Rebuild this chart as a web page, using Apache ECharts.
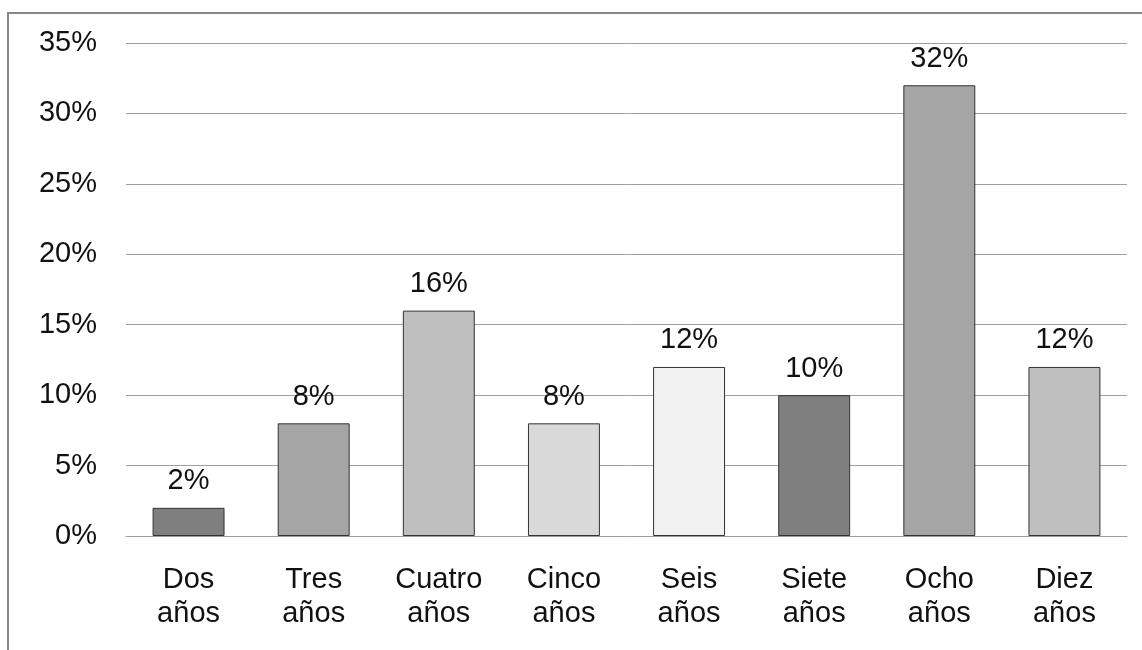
<!DOCTYPE html>
<html>
<head>
<meta charset="utf-8">
<script src="https://cdn.jsdelivr.net/npm/echarts@6/dist/echarts.min.js"></script>
<style>
  html, body { margin: 0; padding: 0; background: #fff; }
  #chart { width: 1142px; height: 650px; }
</style>
</head>
<body>
<div id="chart"></div>
<script>
// datos
const categorias = ['Dos\naños', 'Tres\naños', 'Cuatro\naños', 'Cinco\naños', 'Seis\naños', 'Siete\naños', 'Ocho\naños', 'Diez\naños']
const porcentajes = [2, 8, 16, 8, 12, 10, 32, 12]
const colores = ['#7f7f7f', '#a5a5a5', '#bfbfbf', '#d9d9d9', '#f2f2f2', '#7f7f7f', '#a5a5a5', '#bfbfbf']

const chart = echarts.init(document.getElementById('chart'))
const font = 'Liberation Sans, Arial, sans-serif'
const fsize = 29

const option = {
  animation: false,
  backgroundColor: '#fff',
  textStyle: { fontFamily: font },
  graphic: [
    {
      type: 'rect',
      shape: { x: 8, y: 13, width: 1200, height: 700 },
      style: { fill: 'none', stroke: '#878787', lineWidth: 2 },
      silent: true,
    },
  ],
  grid: { left: 126, right: 15, top: 43, bottom: 114 },
  xAxis: {
    type: 'category',
    data: categorias,
    axisLine: { show: true, lineStyle: { color: '#a0a0a0', width: 1 } },
    axisTick: { show: false },
    axisLabel: {
      color: '#111',
      fontSize: fsize,
      fontFamily: font,
      margin: 27,
      lineHeight: 34,
      interval: 0,
    },
  },
  yAxis: {
    type: 'value',
    min: 0,
    max: 35,
    interval: 5,
    axisLine: { show: false },
    axisTick: { show: false },
    axisLabel: {
      color: '#111',
      fontSize: fsize,
      fontFamily: font,
      margin: 29,
      formatter: '{value}%',
    },
    splitLine: { lineStyle: { color: '#a0a0a0', width: 1 } },
  },
  series: [
    {
      type: 'bar',
      data: porcentajes.map((v, i) => ({ value: v, itemStyle: { color: colores[i] } })),
      barWidth: '57.5%',
      itemStyle: { borderColor: '#333', borderWidth: 1 },
      label: {
        show: true,
        position: 'top',
        distance: 12,
        color: '#111',
        fontSize: fsize,
        fontFamily: font,
        formatter: '{c}%',
      },
    },
  ],
}
chart.setOption(option)
</script>
</body>
</html>
